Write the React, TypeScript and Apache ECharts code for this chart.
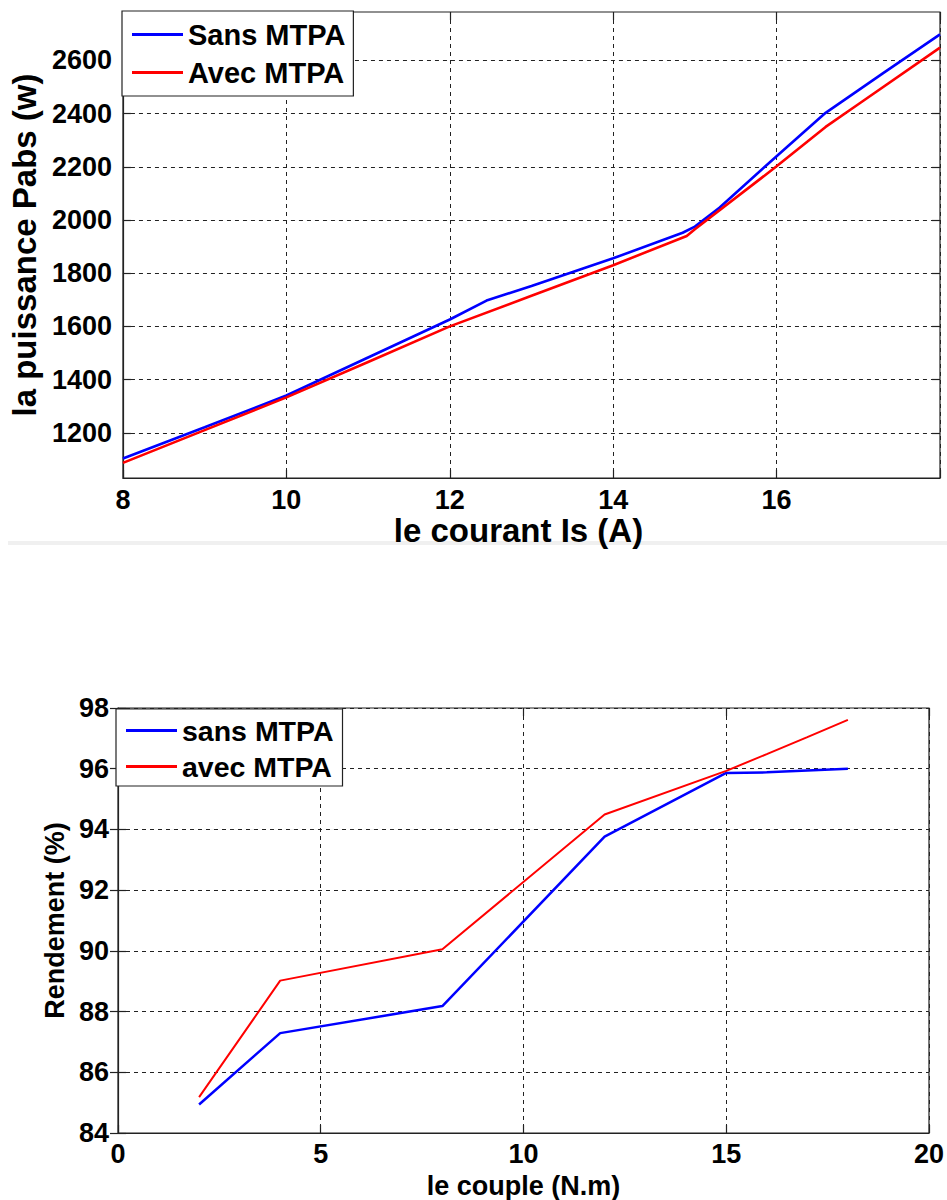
import React, { useEffect, useRef } from "react";
import * as echarts from "echarts";

// ---- Top chart: absorbed power vs stator current ----
const powerSansMTPA: [number, number][] = [
  [8, 1103], [9, 1221], [10, 1340], [11, 1483], [12, 1626], [12.45, 1697],
  [13, 1752], [14, 1856], [14.85, 1952], [15, 1975], [15.3, 2046],
  [16, 2240], [16.6, 2403], [17.3, 2551], [18, 2698],
];
const powerAvecMTPA: [number, number][] = [
  [8, 1087], [9, 1210], [10, 1333], [11, 1466], [12, 1600], [13, 1715],
  [14, 1830], [14.9, 1940], [15, 1965], [16, 2202], [16.6, 2350],
  [17, 2435], [18, 2648],
];
const powerTicks = [1200, 1400, 1600, 1800, 2000, 2200, 2400, 2600];

// ---- Bottom chart: efficiency vs torque ----
const couple = [2, 4, 8, 12, 15, 16, 17, 18];
const rendementSans = [84.94, 87.29, 88.18, 93.76, 95.86, 95.88, 95.94, 96.0];
const rendementAvec = [85.18, 89.02, 90.05, 94.49, 95.93, 96.48, 97.04, 97.61];

const FONT = "'Liberation Sans', Arial, Helvetica, sans-serif";
const BLUE = "#0000ff";
const RED = "#ff0000";

const gridLine = { show: true, lineStyle: { color: "#222", type: [4, 4] as any, width: 1 } };
const axisLineBlack = { show: true, onZero: false, lineStyle: { color: "#222", width: 1.2 } };
const tickIn = { show: true, inside: true, length: 8, lineStyle: { color: "#222", width: 1.2 } };
const labelStyle = { color: "#000", fontFamily: FONT, fontWeight: "bold" as const, fontSize: 27 };

export default function App() {
  const ref = useRef<HTMLDivElement>(null);
  useEffect(() => {
    document.body.style.margin = "0";
    if (!ref.current) return;
    const chart = echarts.init(ref.current, null, { renderer: "svg" });
    const pairs = (xs: number[], ys: number[]) => xs.map((x, i) => [x, ys[i]]);
    chart.setOption({
      animation: false,
      backgroundColor: "#fff",
      grid: [
        { left: 121, top: 12, width: 819, height: 466, show: true, borderColor: "#222", borderWidth: 1.2, backgroundColor: "transparent" },
        { left: 118, top: 708, width: 814, height: 429, show: true, borderColor: "#222", borderWidth: 1.2, backgroundColor: "transparent" },
      ],
      xAxis: [
        {
          type: "value", gridIndex: 0, min: 8, max: 18, interval: 2,
          axisLine: axisLineBlack, axisTick: tickIn, splitLine: gridLine,
          axisLabel: { ...labelStyle, margin: 8, formatter: (v: number) => (v === 18 ? "" : String(v)) },
          name: "le courant Is (A)", nameLocation: "middle", nameGap: 29,
          nameTextStyle: { color: "#000", fontFamily: FONT, fontWeight: "bold", fontSize: 33, padding: [0, 26, 0, 0] },
        },
        {
          type: "value", gridIndex: 0, min: 8, max: 18, interval: 2, position: "top",
          axisLine: { show: false }, axisTick: tickIn, splitLine: { show: false }, axisLabel: { show: false },
        },
        {
          type: "value", gridIndex: 1, min: 0, max: 20, interval: 5,
          axisLine: axisLineBlack, axisTick: tickIn, splitLine: gridLine,
          axisLabel: { ...labelStyle, margin: 7 },
          name: "le couple (N.m)", nameLocation: "middle", nameGap: 39,
          nameTextStyle: { color: "#000", fontFamily: FONT, fontWeight: "bold", fontSize: 27 },
        },
        {
          type: "value", gridIndex: 1, min: 0, max: 20, interval: 5, position: "top",
          axisLine: { show: false }, axisTick: tickIn, splitLine: { show: false }, axisLabel: { show: false },
        },
      ],
      yAxis: [
        {
          type: "value", gridIndex: 0, min: 1030, max: 2782,
          axisLine: axisLineBlack,
          axisTick: { ...tickIn, customValues: powerTicks },
          splitLine: gridLine,
          axisLabel: { ...labelStyle, margin: 11, customValues: powerTicks, formatter: (v: number) => String(v) },
          name: "la puissance Pabs (w)", nameLocation: "middle", nameGap: 78,
          nameTextStyle: { color: "#000", fontFamily: FONT, fontWeight: "bold", fontSize: 33 },
        },
        {
          type: "value", gridIndex: 0, min: 1030, max: 2782, position: "right",
          axisLine: { show: false },
          axisTick: { ...tickIn, customValues: powerTicks },
          splitLine: { show: false }, axisLabel: { show: false, customValues: powerTicks },
        },
        {
          type: "value", gridIndex: 1, min: 84, max: 98, interval: 2,
          axisLine: axisLineBlack, axisTick: tickIn, splitLine: gridLine,
          axisLabel: { ...labelStyle, margin: 9 },
          name: "Rendement (%)", nameLocation: "middle", nameGap: 50,
          nameTextStyle: { color: "#000", fontFamily: FONT, fontWeight: "bold", fontSize: 27 },
        },
        {
          type: "value", gridIndex: 1, min: 84, max: 98, interval: 2, position: "right",
          axisLine: { show: false }, axisTick: tickIn, splitLine: { show: false }, axisLabel: { show: false },
        },
      ],
      legend: [
        {
          left: 122, top: 11, orient: "vertical", itemWidth: 51, itemHeight: 3, itemGap: 9,
          padding: [9, 8, 9, 10], borderColor: "#222", borderWidth: 1.2, backgroundColor: "#fff",
          icon: "rect", data: ["Sans MTPA", "Avec MTPA"],
          textStyle: { color: "#000", fontFamily: FONT, fontWeight: "bold", fontSize: 29, lineHeight: 28 },
        },
        {
          left: 116, top: 709, orient: "vertical", itemWidth: 51, itemHeight: 3, itemGap: 7,
          padding: [7, 9, 5, 10], borderColor: "#222", borderWidth: 1.2, backgroundColor: "#fff",
          icon: "rect", data: ["sans MTPA", "avec MTPA"],
          textStyle: { color: "#000", fontFamily: FONT, fontWeight: "bold", fontSize: 28.5, lineHeight: 26 },
        },
      ],
      graphic: [
        { type: "rect", left: 8, top: 541, shape: { width: 939, height: 4 }, style: { fill: "#f0f0f0" } },
      ],
      series: [
        {
          name: "Sans MTPA", type: "line", xAxisIndex: 0, yAxisIndex: 0, data: powerSansMTPA,
          symbol: "none", color: BLUE, lineStyle: { color: BLUE, width: 2.6 }, z: 3,
        },
        {
          name: "Avec MTPA", type: "line", xAxisIndex: 0, yAxisIndex: 0, data: powerAvecMTPA,
          symbol: "none", color: RED, lineStyle: { color: RED, width: 2.6 }, z: 4,
        },
        {
          name: "sans MTPA", type: "line", xAxisIndex: 2, yAxisIndex: 2, data: pairs(couple, rendementSans),
          symbol: "none", color: BLUE, lineStyle: { color: BLUE, width: 2.5 }, z: 3,
        },
        {
          name: "avec MTPA", type: "line", xAxisIndex: 2, yAxisIndex: 2, data: pairs(couple, rendementAvec),
          symbol: "none", color: RED, lineStyle: { color: RED, width: 2 }, z: 4,
        },
      ],
    });
    return () => chart.dispose();
  }, []);
  return <div ref={ref} style={{ width: 947, height: 1200 }} />;
}
